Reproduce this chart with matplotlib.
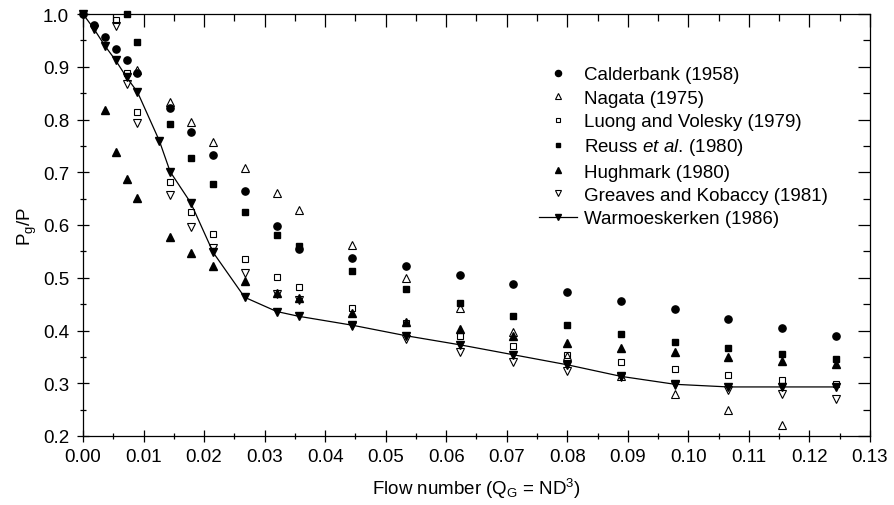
import matplotlib
matplotlib.use("Agg")
import matplotlib.pyplot as plt
from matplotlib.ticker import MultipleLocator, FormatStrFormatter

plt.rcParams['font.family'] = ['Liberation Sans', 'DejaVu Sans']
plt.rcParams['mathtext.fontset'] = 'custom'
plt.rcParams['mathtext.rm'] = 'Liberation Sans'
plt.rcParams['mathtext.it'] = 'Liberation Sans:italic'
plt.rcParams['mathtext.default'] = 'regular'

# flow number values
cal_x = [0.0, 0.0018, 0.0036, 0.0054, 0.0072, 0.0090, 0.0144, 0.0178, 0.0215, 0.0267, 0.0320,
         0.0356, 0.0445, 0.0534, 0.0622, 0.0711, 0.0800, 0.0889, 0.0978, 0.1066, 0.1155, 0.1244]
cal_y = [1.0, 0.979, 0.956, 0.934, 0.912, 0.888, 0.822, 0.777, 0.733, 0.665, 0.599,
         0.555, 0.537, 0.522, 0.505, 0.489, 0.473, 0.456, 0.440, 0.422, 0.405, 0.390]

nag_x = [0.0090, 0.0144, 0.0178, 0.0215, 0.0267, 0.0320, 0.0356, 0.0445, 0.0534, 0.0622,
         0.0711, 0.0800, 0.0889, 0.0978, 0.1066, 0.1155]
nag_y = [0.893, 0.833, 0.795, 0.758, 0.708, 0.660, 0.628, 0.562, 0.499, 0.443,
         0.397, 0.352, 0.313, 0.280, 0.250, 0.221]

luo_x = [0.0054, 0.0072, 0.0090, 0.0144, 0.0178, 0.0215, 0.0267, 0.0320, 0.0356, 0.0445,
         0.0534, 0.0622, 0.0711, 0.0800, 0.0889, 0.0978, 0.1066, 0.1155, 0.1244]
luo_y = [0.989, 0.888, 0.815, 0.681, 0.625, 0.583, 0.536, 0.501, 0.482, 0.442,
         0.415, 0.389, 0.370, 0.354, 0.340, 0.327, 0.316, 0.306, 0.299]

reu_x = [0.0072, 0.0090, 0.0144, 0.0178, 0.0215, 0.0267, 0.0320, 0.0356, 0.0445, 0.0534,
         0.0622, 0.0711, 0.0800, 0.0889, 0.0978, 0.1066, 0.1155, 0.1244]
reu_y = [1.0, 0.946, 0.791, 0.727, 0.678, 0.624, 0.581, 0.560, 0.512, 0.479,
         0.452, 0.428, 0.410, 0.393, 0.379, 0.366, 0.356, 0.346]

hug_x = [0.0036, 0.0054, 0.0072, 0.0090, 0.0144, 0.0178, 0.0215, 0.0267, 0.0320, 0.0356,
         0.0445, 0.0534, 0.0622, 0.0711, 0.0800, 0.0889, 0.0978, 0.1066, 0.1155, 0.1244]
hug_y = [0.818, 0.739, 0.687, 0.651, 0.577, 0.546, 0.522, 0.493, 0.472, 0.462,
         0.433, 0.417, 0.403, 0.390, 0.376, 0.366, 0.359, 0.350, 0.343, 0.337]

gre_x = [0.0054, 0.0072, 0.0090, 0.0144, 0.0178, 0.0215, 0.0267, 0.0320, 0.0356, 0.0445,
         0.0534, 0.0622, 0.0711, 0.0800, 0.0889, 0.0978, 0.1066, 0.1155, 0.1244]
gre_y = [0.977, 0.867, 0.793, 0.657, 0.597, 0.556, 0.509, 0.470, 0.457, 0.408,
         0.383, 0.360, 0.340, 0.324, 0.312, 0.297, 0.288, 0.280, 0.270]

war_x = [0.0, 0.0018, 0.0036, 0.0054, 0.0072, 0.0090, 0.0126, 0.0144, 0.0178, 0.0215, 0.0267,
         0.0320, 0.0356, 0.0445, 0.0534, 0.0622, 0.0711, 0.0800, 0.0889, 0.0978, 0.1066,
         0.1155, 0.1244]
war_y = [1.0, 0.972, 0.940, 0.912, 0.880, 0.852, 0.760, 0.701, 0.642, 0.548, 0.463,
         0.436, 0.427, 0.410, 0.390, 0.373, 0.354, 0.335, 0.313, 0.298, 0.293,
         0.293, 0.293]

fig = plt.figure(figsize=(8.95, 5.06), dpi=100)
ax = fig.add_axes([83/895, 69/506, 787/895, 422/506])

ax.plot(cal_x, cal_y, 'o', color='black', ms=5.2, ls='none', clip_on=False, zorder=4,
        label='Calderbank (1958)')
ax.plot(nag_x, nag_y, '^', mfc='none', mec='black', mew=0.8, ms=5.2, ls='none', label='Nagata (1975)')
ax.plot(luo_x, luo_y, 's', mfc='none', mec='black', mew=0.8, ms=4.0, ls='none', clip_on=False,
        label='Luong and Volesky (1979)')
ax.plot(reu_x, reu_y, 's', color='black', ms=4.2, ls='none', clip_on=False,
        label=r'Reuss $\mathit{et\ al.}\,$(1980)')
ax.plot(hug_x, hug_y, '^', color='black', ms=5.2, ls='none', label='Hughmark (1980)')
ax.plot(gre_x, gre_y, 'v', mfc='none', mec='black', mew=0.8, ms=5.2, ls='none', label='Greaves and Kobaccy (1981)')
ax.plot(war_x, war_y, 'v-', color='black', lw=0.9, ms=5.2, clip_on=False, label='Warmoeskerken (1986)')

ax.set_xlim(0, 0.13)
ax.set_ylim(0.2, 1.0)
ax.xaxis.set_major_locator(MultipleLocator(0.01))
ax.xaxis.set_minor_locator(MultipleLocator(0.005))
ax.yaxis.set_major_locator(MultipleLocator(0.1))
ax.yaxis.set_minor_locator(MultipleLocator(0.05))
ax.xaxis.set_major_formatter(FormatStrFormatter('%.2f'))
ax.yaxis.set_major_formatter(FormatStrFormatter('%.1f'))

for s in ax.spines.values():
    s.set_linewidth(0.9)
ax.tick_params(which='both', bottom=True, left=True, top=True, right=True, width=0.9,
               labelsize=13.5)
ax.tick_params(axis='x', which='both', direction='inout', pad=4)
ax.tick_params(axis='y', which='both', direction='inout', pad=5.5)
ax.tick_params(which='major', length=9)
ax.tick_params(which='minor', length=5)
# top and right ticks only point inwards
for t in ax.xaxis.get_major_ticks() + ax.xaxis.get_minor_ticks():
    t.tick2line.set_marker(3)
for t in ax.yaxis.get_major_ticks() + ax.yaxis.get_minor_ticks():
    t.tick2line.set_marker(0)

ax.set_xlabel('Flow number (Q$_G$ = ND$^3$)', fontsize=13.5, labelpad=8)
ax.set_ylabel('P$_g$/P', fontsize=13.5, labelpad=3)

ax.legend(loc='upper left', bbox_to_anchor=(530/895, 1 - 58/506), bbox_transform=fig.transFigure,
          frameon=False, fontsize=13.5, handlelength=2.0, handletextpad=0.4,
          labelspacing=0.33, borderpad=0, markerscale=0.85)

fig.savefig('out.png', dpi=100)
